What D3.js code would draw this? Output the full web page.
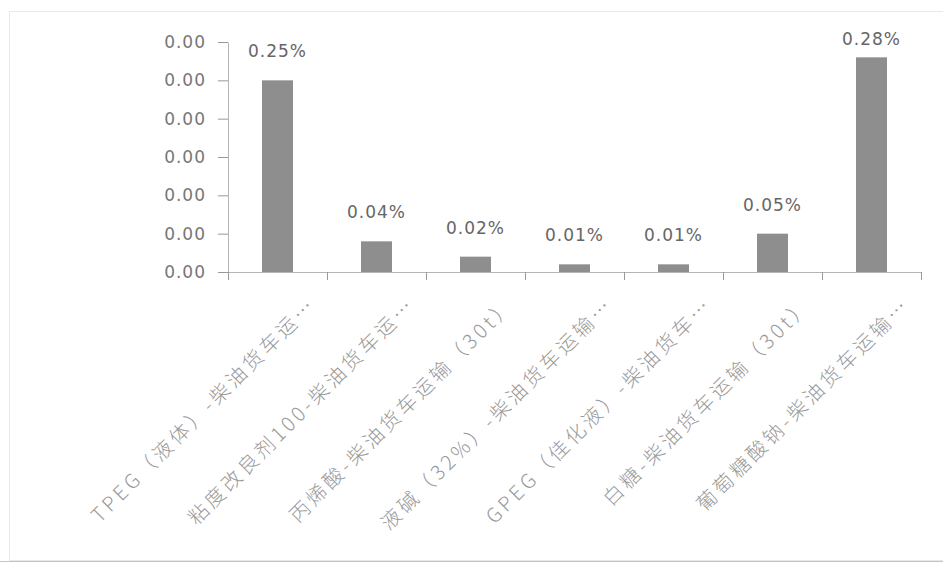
<!DOCTYPE html>
<html>
<head>
<meta charset="utf-8">
<script src="https://cdn.jsdelivr.net/npm/d3@7/dist/d3.min.js"></script>
<style>
  html, body { margin: 0; padding: 0; background: #fff; }
  svg { display: block; }
</style>
</head>
<body>
<svg id="chart" width="943" height="563"></svg>
<script>
// Product transport categories (labels are truncated as in the source report)
const categories = [
  "TPEG（液体）-柴油货车运…",
  "粘度改良剂100-柴油货车运…",
  "丙烯酸-柴油货车运输（30t）",
  "液碱（32%）-柴油货车运输…",
  "GPEG（佳化液）-柴油货车…",
  "白糖-柴油货车运输（30t）",
  "葡萄糖酸钠-柴油货车运输…"
];
// Share of total, as fractions
const shares = [0.0025, 0.0004, 0.0002, 0.0001, 0.0001, 0.0005, 0.0028];
// Y-axis tick values (all display as 0.00 with two decimals)
const yTicks = [0, 0.0005, 0.001, 0.0015, 0.002, 0.0025, 0.003];

const svg = d3.select("#chart");

// Light frame around the chart area
svg.append("rect")
  .attr("x", 9.5).attr("y", 11.5)
  .attr("width", 940).attr("height", 549)
  .attr("fill", "none").attr("stroke", "#e8e8e8");
svg.append("line")
  .attr("x1", 0).attr("x2", 943).attr("y1", 561.5).attr("y2", 561.5)
  .attr("stroke", "#c4c4c4");

const plotLeft = 228, plotRight = 921, plotBottom = 272, plotTop = 42;

const x = d3.scaleBand()
  .domain(categories)
  .range([plotLeft, plotRight])
  .paddingInner(0.687)
  .paddingOuter(0.3435);

const y = d3.scaleLinear()
  .domain([0, 0.003])
  .range([plotBottom, plotTop]);

const axisColor = "#b5b5b5";

// Y axis
const yAxis = svg.append("g")
  .attr("transform", `translate(${plotLeft},0)`)
  .call(d3.axisLeft(y)
    .tickValues(yTicks)
    .tickFormat(d3.format(".2f"))
    .tickSize(10)
    .tickPadding(12)
    .tickSizeOuter(0));
yAxis.select(".domain").attr("stroke", axisColor);
yAxis.selectAll(".tick line").attr("stroke", "#999");
yAxis.selectAll(".tick text")
  .attr("fill", "#777")
  .style("font-family", "'DejaVu Sans', sans-serif")
  .style("font-size", "17px")
  .style("letter-spacing", "1px");

// X axis baseline and category boundary ticks
svg.append("line")
  .attr("x1", plotLeft).attr("x2", plotRight)
  .attr("y1", plotBottom + 0.5).attr("y2", plotBottom + 0.5)
  .attr("stroke", axisColor);

const step = x.step();
const boundaries = d3.range(categories.length + 1).map(i => plotLeft + i * step);
svg.append("g")
  .selectAll("line")
  .data(boundaries)
  .join("line")
  .attr("x1", d => Math.round(d) + 0.5)
  .attr("x2", d => Math.round(d) + 0.5)
  .attr("y1", plotBottom)
  .attr("y2", plotBottom + 8)
  .attr("stroke", "#999");

const rows = categories.map((c, i) => ({ c, v: shares[i] }));

// Bars
svg.append("g")
  .selectAll("rect")
  .data(rows)
  .join("rect")
  .attr("x", d => x(d.c))
  .attr("width", x.bandwidth())
  .attr("y", d => y(d.v))
  .attr("height", d => y(0) - y(d.v))
  .attr("fill", "#8e8e8e");

// Value labels above bars
const pct = d3.format(".2%");
svg.append("g")
  .selectAll("text")
  .data(rows)
  .join("text")
  .attr("x", d => x(d.c) + x.bandwidth() / 2)
  .attr("y", d => Math.max(y(d.v) - 23, 45))
  .attr("text-anchor", "middle")
  .attr("fill", "#666")
  .style("font-family", "'DejaVu Sans', sans-serif")
  .style("font-size", "17px")
  .style("letter-spacing", "1px")
  .text(d => pct(d.v));

// Rotated category labels
svg.append("g")
  .selectAll("text")
  .data(categories)
  .join("text")
  .attr("transform", d => `translate(${x(d) + x.bandwidth() / 2 + 40},306) rotate(-45)`)
  .attr("text-anchor", "end")
  .attr("fill", "#9a9a9a")
  .style("font-family", "'Noto Sans CJK SC', sans-serif")
  .style("font-weight", "300")
  .style("font-size", "20px")
  .style("letter-spacing", "3.5px")
  .text(d => d);
</script>
</body>
</html>
